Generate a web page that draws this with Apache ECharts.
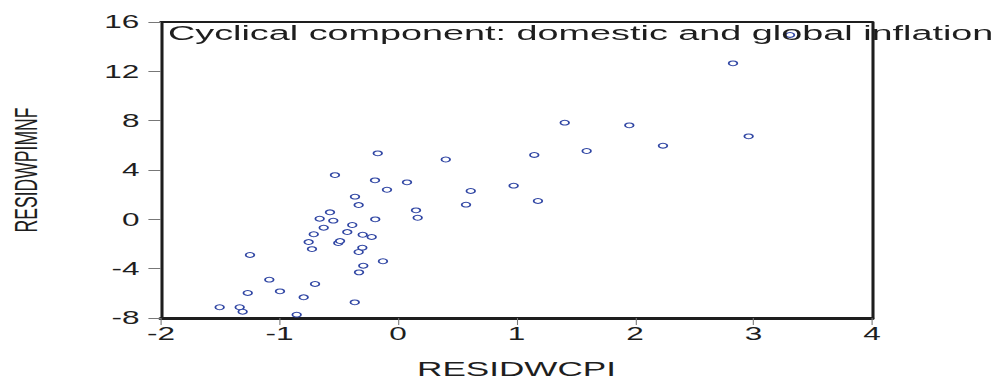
<!DOCTYPE html>
<html>
<head>
<meta charset="utf-8">
<script src="https://cdn.jsdelivr.net/npm/echarts@6/dist/echarts.min.js"></script>
<style>
html,body{margin:0;padding:0;background:#fff;overflow:hidden;}
#wrap{width:995px;height:379px;overflow:hidden;position:relative;}
#chart{height:379px;transform-origin:0 0;}
</style>
</head>
<body>
<div id="wrap"><div id="chart"></div></div>
<script>
// Data
const titleText = "Cyclical component: domestic and global inflation";
const xName = "RESIDWCPI";
const yName = "RESIDWPIMNF";
const xTicks = [-2, -1, 0, 1, 2, 3, 4];
const yTicks = [-8, -4, 0, 4, 8, 12, 16];
const residWCPI = [
  -1.505, -1.336, -1.311, -1.268, -1.249, -1.086, -0.996, -0.855, -0.796, -0.754,
  -0.726, -0.711, -0.700, -0.661, -0.627, -0.574, -0.546, -0.532, -0.504, -0.489,
  -0.428, -0.386, -0.363, -0.365, -0.332, -0.329, -0.332, -0.301, -0.298, -0.293,
  -0.222, -0.192, -0.194, -0.171, -0.127, -0.093, 0.076, 0.152, 0.166, 0.403,
  0.574, 0.614, 0.976, 1.150, 1.181, 1.407, 1.592, 1.952, 2.236, 2.827,
  2.959, 3.308
];
const residWPIMNF = [
  -7.13, -7.13, -7.49, -5.97, -2.89, -4.89, -5.84, -7.73, -6.32, -1.84,
  -2.41, -1.21, -5.24, 0.05, -0.68, 0.57, -0.11, 3.59, -1.92, -1.76,
  -1.03, -0.46, 1.84, -6.73, 1.16, -4.30, -2.65, -2.30, -1.25, -3.76,
  -1.43, 0.00, 3.16, 5.35, -3.40, 2.40, 3.00, 0.73, 0.13, 4.85,
  1.19, 2.30, 2.73, 5.22, 1.49, 7.84, 5.54, 7.62, 5.97, 12.65,
  6.73, 14.95
];

const S = 1.8; // horizontal stretch of the reference picture
const W = 995 / S;
const el = document.getElementById('chart');
el.style.width = W + 'px';
el.style.transform = 'scaleX(' + S + ')';

const points = residWCPI.map((x, i) => [x, residWPIMNF[i]]);
const font = "'Liberation Sans', Arial, Helvetica, sans-serif";
const axisColor = '#1e1e1e';
const textColor = '#1e1e1e';

const chart = echarts.init(el, null, {renderer: 'svg', width: W, height: 379});
chart.setOption({
  animation: false,
  backgroundColor: '#ffffff',
  title: {
    text: titleText,
    left: 168 / S,
    top: 22,
    padding: 0,
    textStyle: {fontFamily: font, fontSize: 21, fontWeight: 'normal', color: textColor}
  },
  grid: {
    left: 161 / S, right: (995 - 872) / S, top: 22, bottom: 61,
    containLabel: false, outerBoundsMode: 'none'
  },
  xAxis: [{
    type: 'value', position: 'bottom',
    min: xTicks[0], max: xTicks[xTicks.length - 1], interval: 1,
    name: xName, nameLocation: 'middle', nameGap: 41,
    nameTextStyle: {fontFamily: font, fontSize: 19.5, color: textColor},
    axisLine: {show: true, onZero: false, lineStyle: {color: axisColor, width: 3}},
    axisTick: {show: true, length: 7, lineStyle: {color: '#777', width: 0.6}},
    axisLabel: {margin: 7, fontFamily: font, fontSize: 17.5, color: textColor},
    splitLine: {show: false}
  }, {
    type: 'value', position: 'top',
    min: xTicks[0], max: xTicks[xTicks.length - 1], interval: 1,
    axisLine: {show: true, onZero: false, lineStyle: {color: axisColor, width: 2}},
    axisTick: {show: false}, axisLabel: {show: false}, splitLine: {show: false}
  }],
  yAxis: [{
    type: 'value', position: 'left',
    min: yTicks[0], max: yTicks[yTicks.length - 1], interval: 4,
    name: yName, nameLocation: 'middle', nameGap: 66, nameRotate: 90,
    nameTextStyle: {fontFamily: font, fontSize: 17.6, color: textColor},
    axisLine: {show: true, onZero: false, lineStyle: {color: axisColor, width: 1.7}},
    axisTick: {show: true, length: 7, lineStyle: {color: '#777', width: 1}},
    axisLabel: {margin: 12, fontFamily: font, fontSize: 17.5, color: textColor},
    splitLine: {show: false}
  }, {
    type: 'value', position: 'right',
    min: yTicks[0], max: yTicks[yTicks.length - 1], interval: 4,
    axisLine: {show: true, onZero: false, lineStyle: {color: axisColor, width: 1.7}},
    axisTick: {show: false}, axisLabel: {show: false}, splitLine: {show: false}
  }],
  series: [{
    type: 'scatter',
    xAxisIndex: 0, yAxisIndex: 0,
    data: points,
    symbol: 'circle',
    symbolSize: 4.8,
    itemStyle: {color: '#ffffff', borderColor: '#2f45a3', borderWidth: 1, opacity: 1},
    z: 1
  }]
});
</script>
</body>
</html>
